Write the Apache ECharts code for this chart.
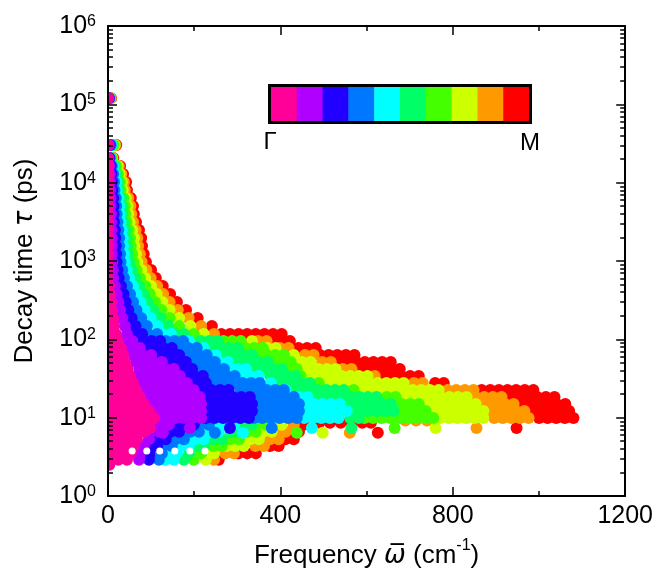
<!DOCTYPE html>
<html><head><meta charset="utf-8">
<script src="https://cdn.jsdelivr.net/npm/echarts@6/dist/echarts.min.js"></script>
<style>html,body{margin:0;padding:0;background:#fff}#c{width:656px;height:575px}</style>
</head><body><div id="c"></div>
<script>
// ---- colours of the q-points along Γ → M ----
const qColors = ['#ff0099','#b000ff','#2200ff','#0077ff','#00ffff','#00ff66','#44ff00','#ccff00','#ff9900','#ff0000'];
const qNames = ['q1 (Γ)','q2','q3','q4','q5','q6','q7','q8','q9','q10 (M)'];
const barLabels = ['Γ','M'];

// ---- axis ticks ----
const xTicks = [0, 400, 800, 1200];
const yMajor = [1, 10, 100, 1000, 10000, 100000, 1000000];
const yMinor = [2,3,4,5,6,7,8,9,20,30,40,50,60,70,80,90,200,300,400,500,600,700,800,900,
  2000,3000,4000,5000,6000,7000,8000,9000,20000,30000,40000,50000,60000,70000,80000,90000,
  200000,300000,400000,500000,600000,700000,800000,900000];

// ---- long-lived modes (isolated points) ----
const peakTauA = 120000;
const peakFreqA = [0,1,2,2,3,4,5,5,6,7];
const peakTauB = 30300;
const peakFreqB = [0,2,4,6,8,10,13,15,17,19];

// ---- acoustic tail: tau levels and frequencies per q-point ----
const tailTau = [20700,16300,12900,10200,8060,6370,5040,3980,3150,2490,1970,1560,1230,971,768,607,480,379,300,237,187,148];
const tailPink    = [0,0,0,0,0,0,0,0,0,0,0,0,0,0,0,0,2,5,7,9,12,14];
const tailPurple  = [1,3,4,5,5,6,6,7,7,8,9,9,9,10,11,12,16,20,24,28,33,39];
const tailBlue    = [3,6,8,9,10,12,13,13,14,16,17,18,19,20,22,25,30,36,41,47,55,64];
const tailMidblue = [4,9,12,14,15,18,19,20,22,24,26,26,28,29,33,37,44,51,58,66,77,90];
const tailCyan    = [5,12,15,19,20,24,26,27,29,32,34,35,37,39,44,49,58,66,75,85,99,115];
const tailTeal    = [6,15,19,23,24,30,32,33,36,40,43,44,46,49,55,62,72,82,92,105,121,140];
const tailGreen   = [8,19,23,28,29,36,39,40,43,48,51,53,56,59,66,74,86,97,109,124,143,165];
const tailYellow  = [9,22,27,32,34,41,45,47,50,56,60,61,65,68,77,86,100,113,126,143,165,191];
const tailOrange  = [10,25,31,37,39,47,52,54,58,64,68,70,74,78,89,99,114,128,143,162,187,216];
const tailRed     = [12,28,35,42,44,53,58,60,65,72,77,79,83,88,100,111,127,144,160,181,208,241];

// ---- optical band: tau levels and frequencies per level per q-point ----
const bandTau = [117,95,77.5,63,51.4,41.8,34,27.7,22.6,18.4,14.9,12.2,9.9,8.1,6.6,5.3,4.35,3.5,2.9];
const bandPink = [[18,0],[23,3],[30,10],[35,15],[39,19,0],[46,26,6],[51,31,11],[58,38,18,0],[65,45,25,5],[74,54,34,14],[83,63,43,23,3],[95,75,55,35,15],[107,87,67,47,27,7],[95,75,55,35,15],[83,63,43,23,3],[67,47,27,7],[60,40,20,0],[53,33,13],[44,24,4]];
const bandPurple = [[44],[56,36],[74,54],[100,80,60],[125,105,85,65],[153,133,113,93,73],[167,147,127,107,87,67],[183,163,143,123,103,83],[199,179,159,139,119,99,79],[213,193,173,153,133,113,93],[216,196,176,156,136,116,96],[216,196,176,156,136,116],[216,196,176,156,136,116],[141,121],[118,98],[95],[83],[74],[72]];
const bandBlue = [[79,59],[121,101,81],[148,128,108,88],[165,145,125],[181,161,141],[195,175],[220,200,180],[227,207],[280,260,240,220],[329,309,289,269,249,229],[334,314,294,274,254,234],[334,314,294,274,254,234],[327,307,287,267,247,227],[199,179,159],[165,145],[134,114],[114,94],[97],[95]];
const bandMidblue = [[114,94],[174,154,134],[206,186,166],[229,209,189],[248,228,208],[269,249,229,209],[294,274,254,234],[352,332,312,292,272,252],[408,388,368,348,328,308],[431,411,391,371,351],[443,423,403,383,363,343],[443,423,403,383,363,343],[438,418,398,378,358,338],[234,214],[211,191],[176,156],[148,128],[125],[118]];
const bandCyan = [[146,126],[188],[222],[250],[278,258],[320,300,280],[350,330,310],[378],[412],[463,443],[538,518,498,478,458],[554,534,514,494,474,454],[535,515,495,475,455],[292,272,252],[257,237],[222,202],[188,168],[160,140],[153,133]];
const bandTeal = [[176,156],[255,235,215],[301,281,261,241],[334,314,294,274],[371,351,331,311,291],[403,383,363,343],[436,416,396,376],[468,448,428,408,388],[547,527,507,487,467,447,427],[623,603,583,563,543,523,503,483],[656,636,616,596,576,556],[663,643,623,603,583,563],[582,562],[334,314],[304,284],[264,244],[222,202],[188],[176]];
const bandGreen = [[199],[308,288,268],[359,339,319],[408,388,368,348],[424,404,384],[438,418],[447],[489],[570],[667,647],[721,701,681],[737,717,697,677],[755,735,715,695,675,655,635,615,595],[366,346],[343,323],[304,284],[264,244],[216],[199]];
const bandYellow = [[222],[334],[389,369],[431],[470,450],[528,508,488,468,448],[602,582,562,542,522,502,482,462],[686,666,646,626,606,586,566,546,526,506],[767,747,727,707,687,667,647,627,607,587],[832,812,792,772,752,732,712,692],[853,833,813,793,773,753,733],[871,851,831,811,791,771,751],[871,851,831,811,791,771],[403,383],[380,360],[350,330],[315,295,275],[246,226],[227]];
const bandOrange = [[246],[368,348],[419,399],[477,457],[517,497],[565,545],[619],[730,710],[848,828,808,788],[913,893,873,853],[941,921,901,881,861],[966,946,926,906,886],[976,956,936,916,896],[431],[412,392],[396,376],[362,342],[292,272],[246]];
const bandRed = [[403,383,363,343,323,303,283,263],[422,402,382],[482,462,442],[572,552,532,512,492],[656,636,616,596,576,556,536],[677,657,637,617,597,577],[721,701,681,661,641],[779,759],[987,967,947,927,907,887,867],[1036,1016,996,976,956,936],[1061,1041,1021,1001,981,961],[1070,1050,1030,1010,990],[1080,1060,1040,1020,1000],[454],[443,423],[431,411],[396,376],[343,323,303],[257]];

// ---- short-lived isolated modes [frequency, tau] ----
const dotsPink    = [[97,7.4],[3,2.5]];
const dotsPurple  = [[190,7.4],[127,6.4]];
const dotsBlue    = [[283,7.4]];
const dotsMidblue = [[380,7.4],[248,6.4]];
const dotsCyan    = [[473,7.4],[313,6.4]];
const dotsTeal    = [[565,7.4]];
const dotsGreen   = [[665,7.4],[438,6.4]];
const dotsYellow  = [[760,7.4],[498,6.4]];
const dotsOrange  = [[855,7.4],[561,6.4],[690,9.2],[715,9.2],[740,9.2]];
const dotsRed     = [[948,7.4],[626,6.4],[465,8.6],[490,8.6],[515,8.6],[540,8.6],[565,8.6],[590,8.6],[610,8.6]];
const whiteTau = 3.75;
const whiteFreq = [56,90,120,155,190,225];

const tails = [tailPink,tailPurple,tailBlue,tailMidblue,tailCyan,tailTeal,tailGreen,tailYellow,tailOrange,tailRed];
const bands = [bandPink,bandPurple,bandBlue,bandMidblue,bandCyan,bandTeal,bandGreen,bandYellow,bandOrange,bandRed];
const dots  = [dotsPink,dotsPurple,dotsBlue,dotsMidblue,dotsCyan,dotsTeal,dotsGreen,dotsYellow,dotsOrange,dotsRed];

function buildPoints(i) {
  const pts = [[peakFreqA[i], peakTauA], [peakFreqB[i], peakTauB]];
  tails[i].forEach((x, j) => pts.push([x, tailTau[j]]));
  bands[i].forEach((row, j) => row.forEach(x => pts.push([x, bandTau[j]])));
  dots[i].forEach(p => pts.push(p));
  return pts;
}

const FONT = '"Liberation Sans", Arial, Helvetica, sans-serif';
const series = [];
for (let i = 9; i >= 0; i--) {
  series.push({
    type: 'scatter', name: qNames[i], data: buildPoints(i),
    symbol: 'circle', symbolSize: 12, xAxisIndex: 0, yAxisIndex: 0,
    itemStyle: { color: qColors[i], opacity: 1 }, silent: true, z: 2
  });
}
series.push({
  type: 'scatter', name: 'gap', data: whiteFreq.map(x => [x, whiteTau]),
  symbol: 'circle', symbolSize: 7, itemStyle: { color: '#ffffff', opacity: 1 }, silent: true, z: 2
});

const axisLine = { show: true, onZero: false, lineStyle: { color: '#000', width: 2 } };
function yAxisDef(pos, ticks, len, main) {
  return {
    type: 'log', logBase: 10, min: 1, max: 1000000, position: pos, z: 5,
    axisLine: main ? axisLine : { show: false, onZero: false },
    axisTick: { show: true, inside: true, length: len, customValues: ticks, lineStyle: { color: '#000', width: 1.5 } },
    axisLabel: (main && pos === 'left') ? {
      show: true, customValues: yMajor, margin: 12,
      formatter: v => '{b|10}{s|' + Math.round(Math.log10(v)) + '}',
      rich: {
        b: { fontSize: 25, fontFamily: FONT, color: '#000' },
        s: { fontSize: 16, fontFamily: FONT, color: '#000', verticalAlign: 'top' }
      }
    } : { show: false },
    splitLine: { show: false },
    minorTick: { show: false },
    name: (main && pos === 'left') ? '{a|Decay time }{t|τ}{a| (ps)}' : '',
    nameLocation: 'middle', nameGap: 70,
    nameTextStyle: {
      rich: {
        a: { fontSize: 26, fontFamily: FONT, color: '#000' },
        t: { fontSize: 26, fontFamily: '"DejaVu Sans", sans-serif', fontStyle: 'italic', color: '#000' }
      }
    }
  };
}
function xAxisDef(pos) {
  return {
    type: 'value', min: 0, max: 1200, interval: 400, position: pos, z: 5,
    axisLine: axisLine,
    axisTick: { show: true, inside: true, length: 9, lineStyle: { color: '#000', width: 1.5 } },
    minorTick: { show: true, splitNumber: 2, length: 5, lineStyle: { color: '#000', width: 1.5 } },
    axisLabel: pos === 'bottom' ? {
      show: true, margin: 8, fontSize: 25, fontFamily: FONT, color: '#000',
      customValues: xTicks, formatter: v => String(v)
    } : { show: false },
    splitLine: { show: false }, minorSplitLine: { show: false },
    name: pos === 'bottom' ? '{a|Frequency }{w|ω\u0305}{a| (cm}{s|-1}{a|)}' : '',
    nameLocation: 'middle', nameGap: 42,
    nameTextStyle: {
      rich: {
        a: { fontSize: 26, lineHeight: 36, fontFamily: FONT, color: '#000' },
        w: { fontSize: 26, lineHeight: 36, fontFamily: '"DejaVu Sans", sans-serif', fontStyle: 'italic', color: '#000' },
        s: { fontSize: 16, lineHeight: 18, fontFamily: FONT, color: '#000', verticalAlign: 'top' }
      }
    }
  };
}

// colour bar legend
const barX = 271, barY = 87, barW = 258, barH = 34;
const barChildren = qColors.map((c, i) => ({
  type: 'rect', shape: { x: barX + i * barW / 10, y: barY, width: barW / 10 + 0.5, height: barH },
  style: { fill: c }
}));
barChildren.push({ type: 'rect', shape: { x: barX - 1.5, y: barY - 1.5, width: barW + 3, height: barH + 3 },
  style: { fill: 'none', stroke: '#000', lineWidth: 3 } });
barChildren.push({ type: 'text', x: 270, y: 142, style: { text: barLabels[0], font: '24px ' + FONT, fill: '#000', align: 'center', verticalAlign: 'middle' } });
barChildren.push({ type: 'text', x: 530, y: 143, style: { text: barLabels[1], font: '24px ' + FONT, fill: '#000', align: 'center', verticalAlign: 'middle' } });

const chart = echarts.init(document.getElementById('c'), null, { renderer: 'canvas' });
chart.setOption({
  animation: false,
  backgroundColor: '#ffffff',
  grid: { left: 108, right: 30, top: 26, bottom: 79, containLabel: false },
  xAxis: [xAxisDef('bottom'), xAxisDef('top')],
  yAxis: [yAxisDef('left', yMajor, 9, true), yAxisDef('right', yMajor, 9, true),
          yAxisDef('left', yMinor, 5, false), yAxisDef('right', yMinor, 5, false)],
  graphic: [
    { type: 'rect', z: 3, silent: true, shape: { x: 0, y: 0, width: 107, height: 575 }, style: { fill: '#ffffff' } },
    { type: 'group', z: 10, silent: true, children: barChildren }
  ],
  series: series
});
</script>
</body></html>
